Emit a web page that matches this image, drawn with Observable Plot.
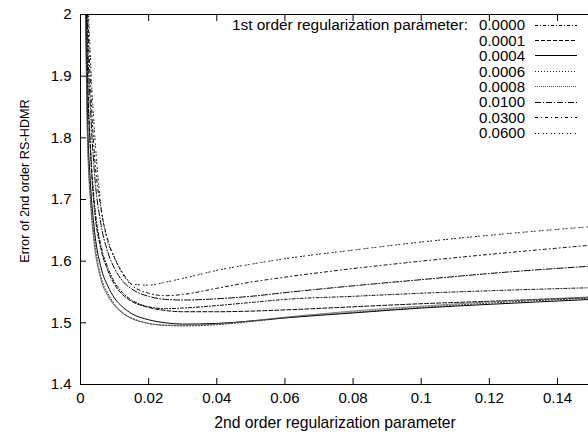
<!DOCTYPE html>
<html><head><meta charset="utf-8">
<script src="https://cdn.jsdelivr.net/npm/d3@7"></script>
<script src="https://cdn.jsdelivr.net/npm/@observablehq/plot@0.6"></script>
<style>
html,body{margin:0;padding:0;background:#fff;}
#wrap{position:relative;width:588px;height:436px;font-family:"Liberation Sans",Arial,sans-serif;font-size:15px;color:#000;overflow:hidden;}
#legend{position:absolute;left:150px;top:17.3px;width:438px;}
.row{display:flex;align-items:center;height:15.45px;line-height:15.45px;}
.ttl{width:318px;text-align:right;white-space:nowrap;font-size:15.4px;}
.val{width:57px;text-align:right;}
.smp{margin-left:10px;}
#xtitle{position:absolute;left:80px;width:510px;top:413px;height:20px;line-height:20px;text-align:center;font-size:15.7px;}
#ytitle{position:absolute;left:25px;top:181px;width:0;height:0;}
#ytitle span{position:absolute;left:0;top:0;transform:translate(-50%,-50%) rotate(-90deg);white-space:nowrap;line-height:16px;font-size:12.7px;}
</style></head><body><div id="wrap"><div id="legend"></div><div id="xtitle"></div><div id="ytitle"><span></span></div></div>
<script>
// 2nd order regularization parameter (x)
const xs = [0.0015,0.002,0.003,0.004,0.006,0.008,0.01,0.0125,0.015,0.02,0.025,0.03,0.04,0.05,0.06,0.08,0.1,0.12,0.15];
// 1st order regularization parameter (series)
const seriesNames = ["0.0000","0.0001","0.0004","0.0006","0.0008","0.0100","0.0300","0.0600"];
const err0000 = [2.10,1.93,1.78,1.70,1.625,1.59,1.566,1.548,1.537,1.526,1.523,1.524,1.528,1.533,1.538,1.543,1.548,1.552,1.557];
const err0001 = [2.10,1.92,1.77,1.69,1.62,1.585,1.562,1.545,1.535,1.525,1.520,1.518,1.518,1.519,1.521,1.526,1.531,1.535,1.541];
const err0004 = [2.03,1.85,1.72,1.655,1.59,1.56,1.54,1.525,1.515,1.505,1.500,1.498,1.499,1.503,1.508,1.516,1.524,1.530,1.538];
const err0006 = [2.00,1.82,1.70,1.64,1.575,1.548,1.53,1.516,1.508,1.499,1.496,1.495,1.497,1.502,1.508,1.517,1.525,1.532,1.540];
const err0008 = [1.99,1.81,1.69,1.63,1.57,1.544,1.528,1.515,1.507,1.499,1.496,1.496,1.498,1.503,1.509,1.519,1.527,1.534,1.542];
const err0100 = [2.20,2.00,1.84,1.75,1.66,1.615,1.588,1.567,1.555,1.543,1.538,1.537,1.539,1.543,1.549,1.560,1.570,1.580,1.592];
const err0300 = [2.30,2.05,1.88,1.78,1.685,1.635,1.605,1.58,1.562,1.548,1.544,1.546,1.556,1.566,1.574,1.588,1.600,1.611,1.626];
const err0600 = [2.40,2.10,1.92,1.82,1.69,1.632,1.606,1.578,1.563,1.561,1.566,1.572,1.585,1.595,1.604,1.618,1.631,1.642,1.656];
const seriesValues = [err0000,err0001,err0004,err0006,err0008,err0100,err0300,err0600];
const xTicks = [0,0.02,0.04,0.06,0.08,0.1,0.12,0.14];
const xTickLabels = ["0","0.02","0.04","0.06","0.08","0.1","0.12","0.14"];
const yTicks = [1.4,1.5,1.6,1.7,1.8,1.9,2];
const yTickLabels = ["1.4","1.5","1.6","1.7","1.8","1.9","2"];
const legendTitle = "1st order regularization parameter:";
const xTitle = "2nd order regularization parameter";
const yTitle = "Error of 2nd order RS-HDMR";
const dashes = ["3,2,1,2","4,2",null,"1,2","1,1","6,2,1,2","3,3,1,3","1,2,1,4"];
const strokes = ["#000","#000","#000","#222","#555","#000","#000","#000"];

const xLab = new Map(xTicks.map((d,i)=>[d,xTickLabels[i]]));
const yLab = new Map(yTicks.map((d,i)=>[d,yTickLabels[i]]));

const lineMarks = seriesNames.map((s,i)=>Plot.line(
  xs.map((x,j)=>({x, y: seriesValues[i][j], series: s})),
  {x:"x", y:"y", stroke: strokes[i], strokeWidth: 1, strokeDasharray: dashes[i], curve:"monotone-x", clip:true}));

const chart = Plot.plot({
  width:588, height:436, marginLeft:80, marginRight:0, marginTop:14, marginBottom:52,
  style:{fontFamily:"Liberation Sans, Arial, sans-serif", fontSize:"15px", color:"#000", background:"#fff"},
  x:{domain:[0,0.1491], axis:null},
  y:{domain:[1.4,2], axis:null},
  marks:[
    ...lineMarks,
    Plot.ruleY([1.4],{stroke:"#000"}),
    Plot.ruleY([2],{stroke:"#000"}),
    Plot.ruleX([0],{stroke:"#000"}),
    Plot.axisX(xTicks,{tickSize:6, dy:-6, tickFormat:()=>"", label:null, stroke:"#000"}),
    Plot.axisX(xTicks,{anchor:"top", tickSize:6, dy:6, tickFormat:()=>"", label:null, stroke:"#000"}),
    Plot.axisX(xTicks,{tickSize:0, tickPadding:8, tickFormat:d=>xLab.get(d), label:null}),
    Plot.axisY(yTicks,{tickSize:6, dx:6, tickFormat:()=>"", label:null, stroke:"#000"}),
    Plot.axisY(yTicks,{tickSize:0, tickPadding:9, tickFormat:d=>yLab.get(d), label:null})
  ]
});
document.getElementById("wrap").prepend(chart);
d3.select("#xtitle").text(xTitle);
d3.select("#ytitle span").text(yTitle);

const legend = d3.select("#legend");
seriesNames.forEach((s,i)=>{
  const row = legend.append("div").attr("class","row");
  row.append("span").attr("class","ttl").text(i===0?legendTitle:"");
  row.append("span").attr("class","val").text(s);
  const svg = row.append("svg").attr("class","smp").attr("width",42).attr("height",15);
  svg.append("line").attr("x1",0).attr("x2",42).attr("y1",7.5).attr("y2",7.5)
    .attr("stroke",strokes[i]).attr("stroke-width",1).attr("stroke-dasharray",dashes[i]);
});
</script></body></html>
